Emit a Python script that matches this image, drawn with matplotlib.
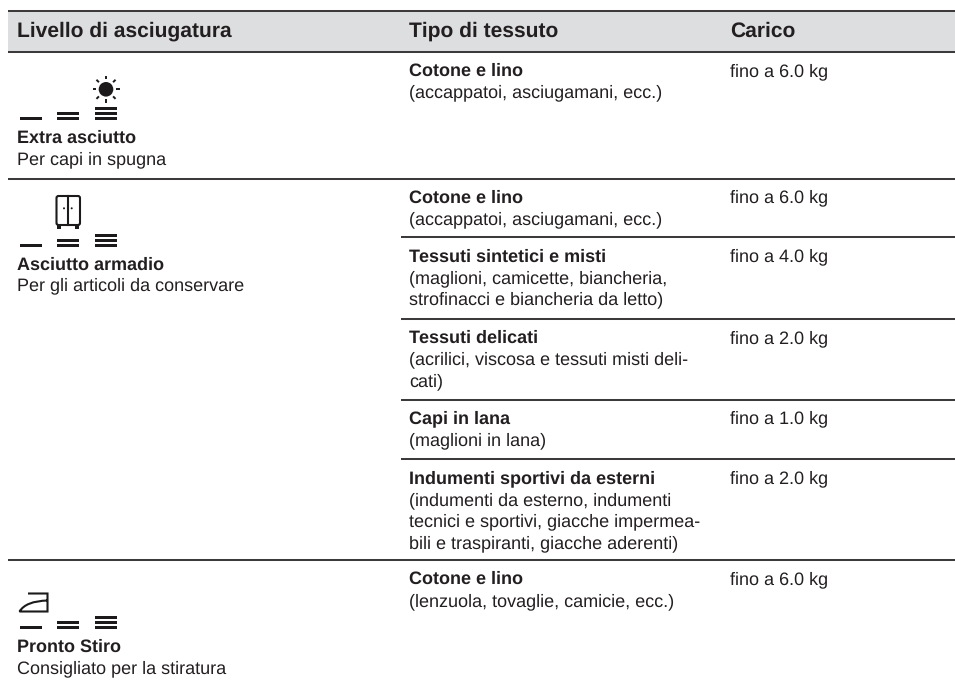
import numpy as np
import matplotlib
matplotlib.use("Agg")
import matplotlib.pyplot as plt
from matplotlib.patches import Rectangle, Circle, FancyBboxPatch, PathPatch
from matplotlib.path import Path

plt.rcParams["text.hinting"] = "no_hinting"
plt.rcParams["text.hinting_factor"] = 1

headers = ["Livello di asciugatura", "Tipo di tessuto", "Carico"]
level_names = ["Extra asciutto", "Asciutto armadio", "Pronto Stiro"]
level_notes = ["Per capi in spugna", "Per gli articoli da conservare", "Consigliato per la stiratura"]
fabric_names = ["Cotone e lino", "Cotone e lino", "Tessuti sintetici e misti", "Tessuti delicati",
                "Capi in lana", "Indumenti sportivi da esterni", "Cotone e lino"]
fabric_notes = [
    ["(accappatoi, asciugamani, ecc.)"],
    ["(accappatoi, asciugamani, ecc.)"],
    ["(maglioni, camicette, biancheria,", "strofinacci e biancheria da letto)"],
    ["(acrilici, viscosa e tessuti misti deli-", "cati)"],
    ["(maglioni in lana)"],
    ["(indumenti da esterno, indumenti", "tecnici e sportivi, giacche impermea-", "bili e traspiranti, giacche aderenti)"],
    ["(lenzuola, tovaglie, camicie, ecc.)"],
]
loads = ["fino a 6.0 kg", "fino a 6.0 kg", "fino a 4.0 kg", "fino a 2.0 kg",
         "fino a 1.0 kg", "fino a 2.0 kg", "fino a 6.0 kg"]

W, H = 955, 684
TXT = "#231f20"
LINE = "#3c3a3b"
FONT = "Liberation Sans"
BODY = 13.25
HEAD = 15.4

fig = plt.figure(figsize=(W / 100, H / 100), dpi=100)
ax = fig.add_axes([0, 0, 1, 1])
ax.set_xlim(0, W)
ax.set_ylim(H, 0)
ax.axis("off")

ax.add_patch(Rectangle((8, 11), W - 8, 41, fc="#dcdee0", ec="none", zorder=0))


def rule(x0, y, lw=1.45):
    ax.plot([x0, W], [y, y], color=LINE, lw=lw, solid_capstyle="butt", zorder=2)


for y in [11.2, 52, 178.6, 560.3]:
    rule(8, y)
sub_rules = [237.4, 319, 399.5, 459.4]
for y in sub_rules:
    rule(400.5, y)

COLS = [16.5, 409, 730]
for x, h in zip(COLS, headers):
    ax.text(x, 36.5, h, family=FONT, weight="bold", fontsize=HEAD, color=TXT, va="baseline")

LEAD = 21.5
fabric_y = [76, 202.6, 261.4, 343, 423.5, 483.4, 584.3]
for y, name, notes, load in zip(fabric_y, fabric_names, fabric_notes, loads):
    ax.text(COLS[1], y, name, family=FONT, weight="bold", fontsize=BODY, color=TXT, va="baseline")
    for i, n in enumerate(notes):
        ax.text(COLS[1], y + LEAD * (i + 1), n, family=FONT, fontsize=BODY, color=TXT, va="baseline")
    ax.text(COLS[2], y, load, family=FONT, fontsize=BODY, color=TXT, va="baseline")

level_y = [143, 269.6, 652]
for y, name, note in zip(level_y, level_names, level_notes):
    ax.text(COLS[0], y, name, family=FONT, weight="bold", fontsize=BODY, color=TXT, va="baseline")
    ax.text(COLS[0], y + 21, note, family=FONT, fontsize=BODY, color=TXT, va="baseline")

ICON = "#1c1a1b"


def bars(base):
    for x0, count in [(20, 1), (57, 2), (95, 3)]:
        for k in range(count):
            ax.add_patch(Rectangle((x0, base - 3 - 5 * k), 22, 3, fc=ICON, ec="none", zorder=3))


for b in [120, 247, 629]:
    bars(b)

# sun
cx, cy = 106, 89.3
ax.add_patch(Circle((cx, cy), 7.3, fc=ICON, ec="none", zorder=3))
for a in np.deg2rad(np.arange(0, 360, 45)):
    ax.plot([cx + 10 * np.cos(a), cx + 13.5 * np.cos(a)],
            [cy + 10 * np.sin(a), cy + 13.5 * np.sin(a)],
            color=ICON, lw=1.4, solid_capstyle="butt", zorder=3)

# wardrobe
ax.add_patch(FancyBboxPatch((56.5, 196), 23.5, 29, boxstyle="round,pad=0,rounding_size=2",
                            fc="none", ec=ICON, lw=1.5, zorder=3))
ax.plot([68, 68], [196, 225], color=ICON, lw=1.5, zorder=3)
for x in [64, 71.7]:
    ax.add_patch(Circle((x, 208.3), 1.0, fc=ICON, ec="none", zorder=3))
for x in [57, 75]:
    ax.add_patch(Rectangle((x, 225), 4, 4, fc=ICON, ec="none", zorder=3))

# iron
iron = Path([(28, 593.5), (47.5, 593.5), (47.5, 611.5), (19.5, 611.5),
             (26, 601), (47.5, 600.5)],
            [Path.MOVETO, Path.LINETO, Path.LINETO, Path.LINETO,
             Path.CURVE3, Path.CURVE3])
ax.add_patch(PathPatch(iron, fc="none", ec=ICON, lw=1.5, zorder=3))

fig.savefig("out.png", dpi=100, facecolor="white")
